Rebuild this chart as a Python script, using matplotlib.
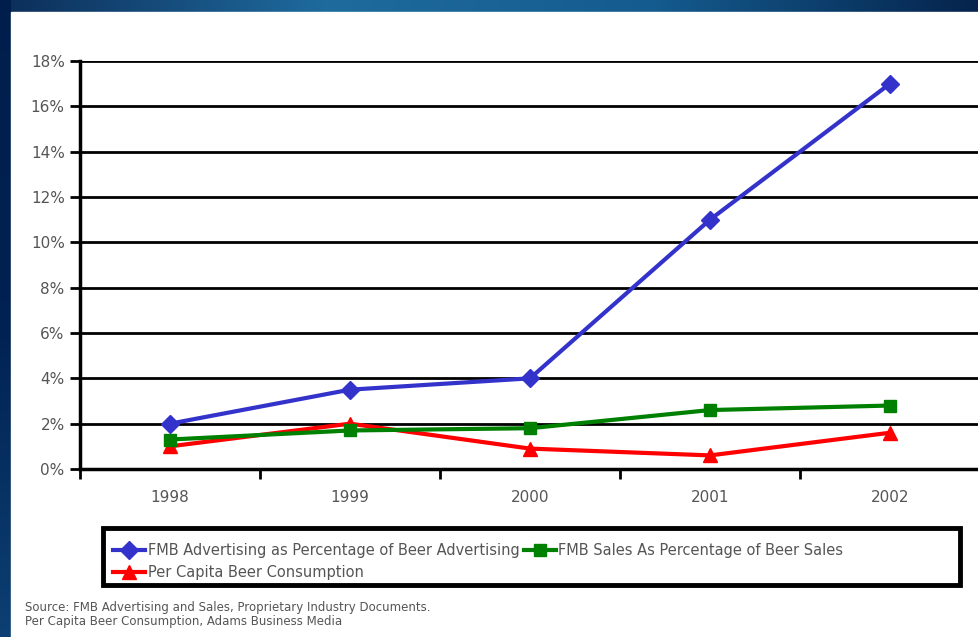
import numpy as np
import matplotlib
matplotlib.use("Agg")
import matplotlib.pyplot as plt
from matplotlib.patches import Rectangle

years = ['1998', '1999', '2000', '2001', '2002']
fmb_adv = [2.0, 3.5, 4.0, 11.0, 17.0]
fmb_sales = [1.3, 1.7, 1.8, 2.6, 2.8]
per_capita = [1.0, 2.0, 0.9, 0.6, 1.6]
ytick_vals = [0, 2, 4, 6, 8, 10, 12, 14, 16, 18]

W, H = 979, 637
fig = plt.figure(figsize=(W / 100, H / 100), dpi=100)

# slide background: blue gradient bands top and left
bg = fig.add_axes([0, 0, 1, 1])
bg.set_axis_off()
grad = np.linspace(0, 1, 256)
top = np.array([[0.05, 0.18, 0.35], [0.12, 0.42, 0.62], [0.08, 0.36, 0.56], [0.02, 0.14, 0.30]])
cols = np.array([np.interp(grad, np.linspace(0, 1, 4), top[:, k]) for k in range(3)]).T
img = np.tile(cols[None, :, :], (64, 1, 1))
bg.imshow(img, extent=[0, W, 0, H], aspect='auto')
left = np.array([[0.05, 0.25, 0.45], [0.0, 0.13, 0.32], [0.0, 0.12, 0.30]])
lc = np.array([np.interp(grad, np.linspace(0, 1, 3), left[:, k]) for k in range(3)]).T
bg.imshow(lc[::-1, None, :], extent=[0, 11, 0, H], aspect='auto')
bg.add_patch(Rectangle((11, 0), W - 11, H - 12, color='white'))
bg.set_xlim(0, W)
bg.set_ylim(0, H)

ax = fig.add_axes([80 / W, (H - 469) / H, 900 / W, (469 - 61) / H])
x = np.arange(len(years))
ax.plot(x, fmb_adv, color='#3333cc', lw=3, marker='D', ms=9,
        label='FMB Advertising as Percentage of Beer Advertising')
ax.plot(x, per_capita, color='#ff0000', lw=3, marker='^', ms=10,
        label='Per Capita Beer Consumption')
ax.plot(x, fmb_sales, color='#008000', lw=3, marker='s', ms=9,
        label='FMB Sales As Percentage of Beer Sales')

ax.set_xlim(-0.5, 4.5)
ax.set_ylim(0, 18)
ax.set_yticks(ytick_vals)
ax.set_yticklabels(['%d%%' % v for v in ytick_vals])
ax.yaxis.grid(True, color='black', lw=2)
ax.set_axisbelow(True)
ax.set_xticks(x)
ax.set_xticklabels(years)
ax.set_xticks(np.arange(-0.5, 5, 1), minor=True)
ax.tick_params(axis='x', which='major', length=0, pad=15, labelsize=11, labelcolor='#555555')
ax.tick_params(axis='x', which='minor', length=7, width=2, direction='out')
ax.tick_params(axis='y', length=7, width=2, direction='out', pad=4, labelsize=11,
               labelcolor='#555555')
for s in ['top', 'right']:
    ax.spines[s].set_visible(False)
ax.spines['left'].set_linewidth(2.5)
ax.spines['bottom'].set_linewidth(2.5)

# legend box
fig.patches.append(Rectangle((103 / W, (H - 585) / H), (960 - 103) / W, (585 - 528) / H,
                             transform=fig.transFigure, fill=False, ec='black', lw=3.5))
fig.legend(loc='upper left', bbox_to_anchor=(106 / W, (H - 536) / H), ncol=2,
           frameon=False, fontsize=10.5, handlelength=2.2, handletextpad=0.15,
           columnspacing=0.3, labelspacing=0.45, borderpad=0, labelcolor='#555555')

fig.text(25 / W, (H - 607) / H, 'Source: FMB Advertising and Sales, Proprietary Industry Documents.',
         fontsize=8.5, color='#555555', va='center')
fig.text(25 / W, (H - 621) / H, 'Per Capita Beer Consumption, Adams Business Media',
         fontsize=8.5, color='#555555', va='center')

fig.savefig('out.png', dpi=100)
